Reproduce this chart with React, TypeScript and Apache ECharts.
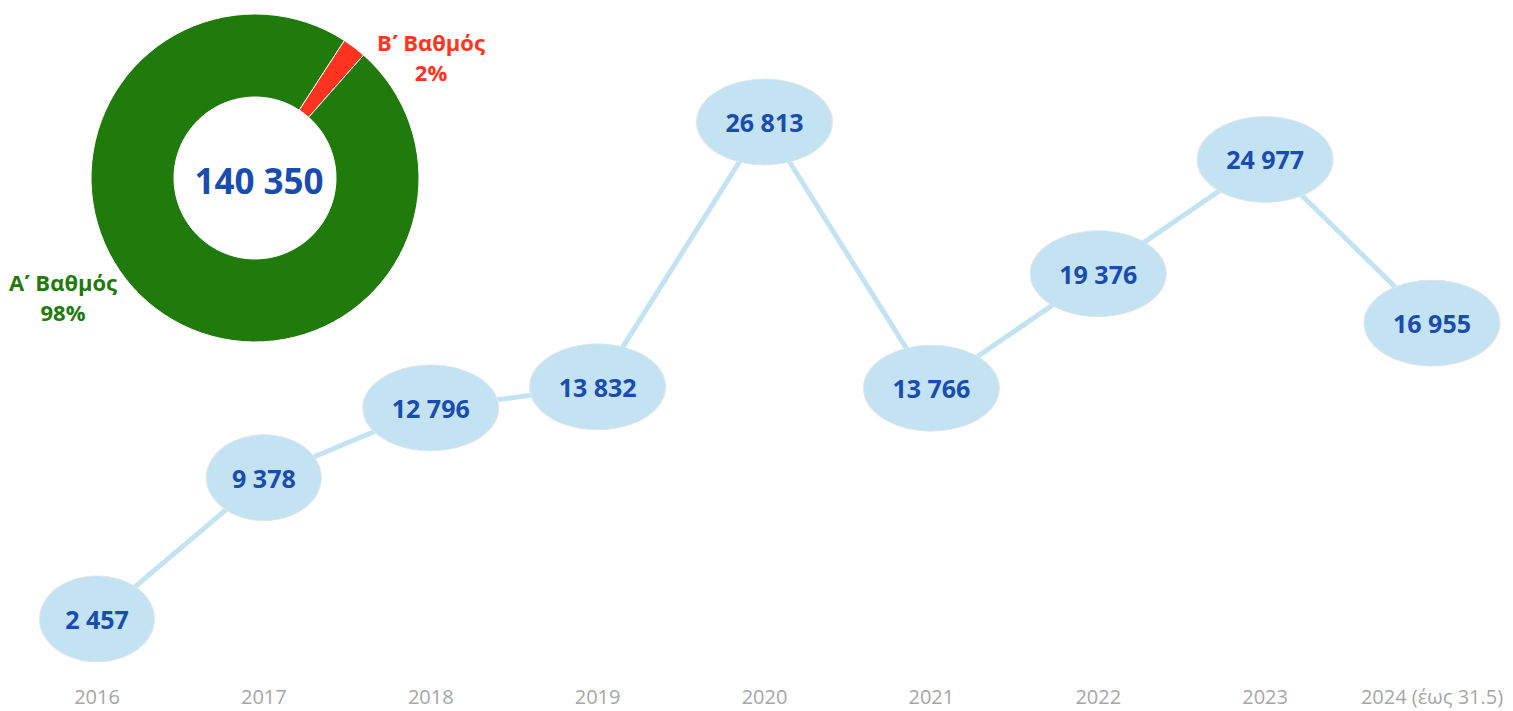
import React, { useEffect, useRef } from "react";
import * as echarts from "echarts";

const years = ["2016", "2017", "2018", "2019", "2020", "2021", "2022", "2023", "2024 (έως 31.5)"];
const yearTotals = [2457, 9378, 12796, 13832, 26813, 13766, 19376, 24977, 16955];

const gradeNames = ["Β\u0374 Βαθμός", "Α\u0374 Βαθμός"];
const gradeValues = [3300, 137050];
const gradeColors = ["#ff3320", "#207a0c"];

const FONT = "'Open Sans', 'Noto Sans', sans-serif";
const fmt = (v: number) => String(v).replace(/\B(?=(\d{3})+(?!\d))/g, " ");

export default function App() {
  const ref = useRef<HTMLDivElement>(null);
  useEffect(() => {
    if (!ref.current) return;
    const chart = echarts.init(ref.current, undefined, { renderer: "svg" });
    const total = gradeValues.reduce((a, b) => a + b, 0);
    chart.setOption({
      animation: false,
      backgroundColor: "#ffffff",
      textStyle: { fontFamily: FONT },
      grid: { left: 97, right: 81, top: 57, bottom: 42 },
      xAxis: {
        type: "category",
        data: years,
        boundaryGap: false,
        axisLine: { show: false },
        axisTick: { show: false },
        axisLabel: { color: "#a6a6a6", fontSize: 20, fontFamily: FONT, margin: 17, interval: 0 },
      },
      yAxis: {
        type: "value",
        min: 0,
        max: 30000,
        show: false,
        splitLine: { show: false },
      },
      graphic: [
        {
          type: "text",
          x: 259,
          y: 180,
          style: {
            text: fmt(total),
            fill: "#1a4cb0",
            font: `bold 35px ${FONT}`,
            align: "center",
            verticalAlign: "middle",
          },
          z: 100,
        },
      ],
      series: [
        {
          type: "line",
          data: yearTotals,
          symbol: "circle",
          symbolSize: (v: number) => (fmt(v).length > 5 ? [136, 86] : [115, 86]),
          lineStyle: { color: "#c3e3f2", width: 5 },
          itemStyle: { color: "#c3e2f2", borderColor: "#e2e6ea", borderWidth: 1 },
          label: {
            show: true,
            position: "inside",
            formatter: (p: any) => fmt(p.value),
            color: "#1a4cb0",
            fontWeight: "bold",
            fontSize: 25,
            fontFamily: FONT,
          },
          z: 2,
        },
        {
          type: "pie",
          center: [255, 178],
          radius: [81, 164],
          startAngle: 57,
          clockwise: true,
          data: gradeNames.map((n, i) => ({
            name: n,
            value: gradeValues[i],
            itemStyle: { color: gradeColors[i] },
            label: { color: gradeColors[i] },
          })),
          itemStyle: { borderColor: "#ffffff", borderWidth: 1 },
          labelLine: { show: false },
          label: {
            show: true,
            position: "outside",
            formatter: (p: any) => `${p.name}\n${Math.round(p.percent)}%`,
            fontWeight: "bold",
            fontSize: 22,
            lineHeight: 30,
            fontFamily: FONT,
            align: "center",
            overflow: "none",
            width: 200,
          },
          labelLayout: (params: any) =>
            params.dataIndex === 0
              ? { x: 431, y: 57, align: "center", verticalAlign: "middle" }
              : { x: 63, y: 297, align: "center", verticalAlign: "middle" },
          emphasis: { disabled: true },
          z: 3,
        },
      ],
    });
    return () => chart.dispose();
  }, []);
  return (
    <div
      ref={ref}
      style={{ position: "absolute", left: 0, top: 0, width: 1513, height: 711 }}
    />
  );
}
